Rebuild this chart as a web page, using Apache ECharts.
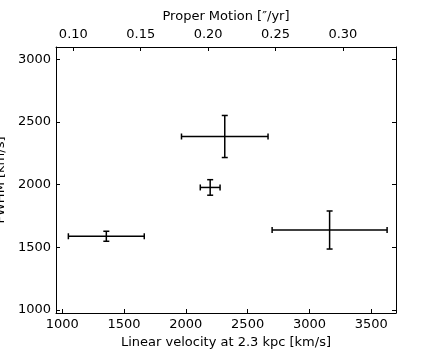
<!DOCTYPE html>
<html>
<head>
<meta charset="utf-8">
<script src="https://cdn.jsdelivr.net/npm/echarts@6/dist/echarts.min.js"></script>
<style>
html,body{margin:0;padding:0;background:#fff;}
#chart{width:440px;height:360px;}
</style>
</head>
<body>
<div id="chart"></div>
<script>
// Data
const velocity = [1357, 2197, 2315, 3163];      // km/s (x)
const velocityErr = [307, 80, 350, 465];        // km/s
const fwhm = [1588, 1978, 2385, 1638];          // km/s (y)
const fwhmErr = [40, 62, 168, 152];             // km/s

const xTicks = [1000, 1500, 2000, 2500, 3000, 3500];
const yTicks = [1000, 1500, 2000, 2500, 3000];
const pmTicks = [0.10, 0.15, 0.20, 0.25, 0.30];

const xMin = 950, xMax = 3700, yMin = 975, yMax = 3100;
const pmFactor = 4.74 * 2300; // km/s per ("/yr) at 2.3 kpc

const FONT = 'DejaVu Sans';
const FS = 13;

const data = velocity.map((v, i) => [v, fwhm[i], velocityErr[i], fwhmErr[i]]);

const chart = echarts.init(document.getElementById('chart'), null, {renderer: 'canvas'});

function renderItem(params, api) {
  const x = api.value(0), y = api.value(1), ex = api.value(2), ey = api.value(3);
  const l = api.coord([x - ex, y]);
  const r = api.coord([x + ex, y]);
  const t = api.coord([x, y + ey]);
  const b = api.coord([x, y - ey]);
  const c = 3;
  const style = {stroke: '#000', lineWidth: 1.5, fill: null};
  const line = (x1, y1, x2, y2) => ({type: 'line', shape: {x1, y1, x2, y2}, style});
  return {
    type: 'group',
    children: [
      line(l[0], l[1], r[0], r[1]),
      line(t[0], t[1], b[0], b[1]),
      line(l[0], l[1] - c, l[0], l[1] + c),
      line(r[0], r[1] - c, r[0], r[1] + c),
      line(t[0] - c, t[1], t[0] + c, t[1]),
      line(b[0] - c, b[1], b[0] + c, b[1])
    ]
  };
}

const axisLine = {show: true, onZero: false, lineStyle: {color: '#000', width: 1}};
const tick = (vals) => ({show: true, inside: true, length: 4, lineStyle: {color: '#000', width: 1}, customValues: vals});
const label = (vals, fmt, extra) => Object.assign({
  show: true, customValues: vals, formatter: fmt, color: '#000',
  fontFamily: FONT, fontSize: FS
}, extra || {});

chart.setOption({
  animation: false,
  backgroundColor: '#fff',
  grid: {left: 56, top: 47, right: 44, bottom: 47, containLabel: false, outerBoundsMode: 'none'},
  xAxis: [
    {
      type: 'value', position: 'bottom', min: xMin, max: xMax,
      axisLine: axisLine, axisTick: tick(xTicks),
      axisLabel: label(xTicks, v => String(v), {margin: 5}),
      splitLine: {show: false},
      name: 'Linear velocity at 2.3 kpc [km/s]', nameLocation: 'middle', nameGap: 22,
      nameTextStyle: {color: '#000', fontFamily: FONT, fontSize: FS, verticalAlign: 'top'}
    },
    {
      type: 'value', position: 'top', min: xMin / pmFactor, max: xMax / pmFactor,
      axisLine: axisLine, axisTick: tick(pmTicks),
      axisLabel: label(pmTicks, v => v.toFixed(2), {margin: 6}),
      splitLine: {show: false},
      name: 'Proper Motion [\u2033/yr]', nameLocation: 'middle', nameGap: 21,
      nameTextStyle: {color: '#000', fontFamily: FONT, fontSize: FS, verticalAlign: 'bottom'}
    }
  ],
  yAxis: [
    {
      type: 'value', position: 'left', min: yMin, max: yMax,
      axisLine: axisLine, axisTick: tick(yTicks),
      axisLabel: label(yTicks, v => String(v), {margin: 5}),
      splitLine: {show: false},
      name: 'FWHM [km/s]', nameLocation: 'middle', nameGap: 43, nameRotate: 90,
      nameTextStyle: {color: '#000', fontFamily: FONT, fontSize: FS}
    },
    {
      type: 'value', position: 'right', min: yMin, max: yMax,
      axisLine: axisLine, axisTick: tick(yTicks),
      axisLabel: {show: false},
      splitLine: {show: false}
    }
  ],
  series: [{
    type: 'custom',
    xAxisIndex: 0, yAxisIndex: 0,
    renderItem: renderItem,
    data: data,
    encode: {x: 0, y: 1}
  }]
});
</script>
</body>
</html>
